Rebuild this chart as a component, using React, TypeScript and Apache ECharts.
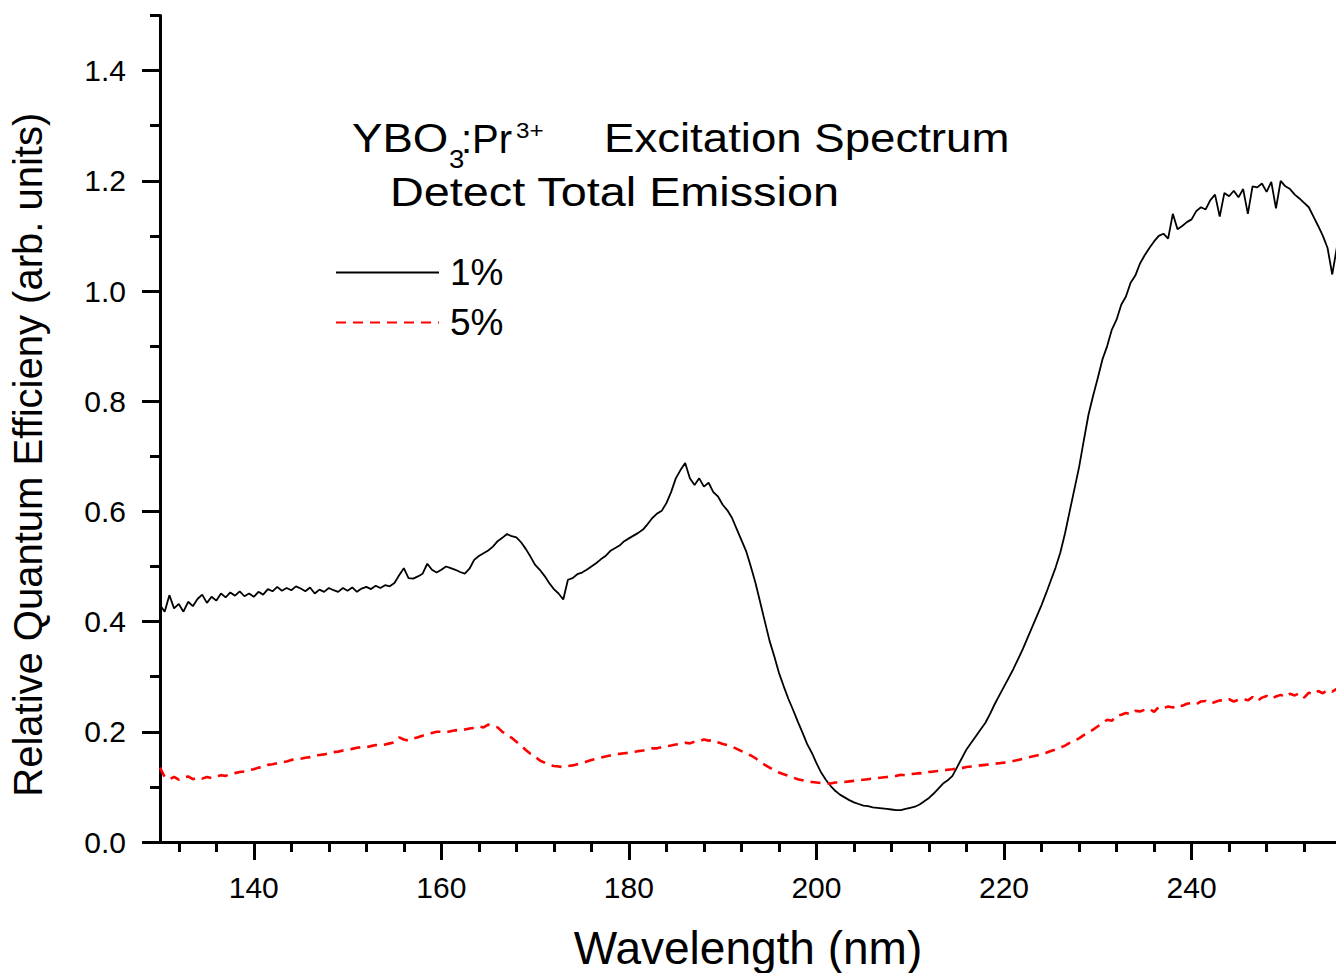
import React, { useEffect, useRef } from "react";
import * as echarts from "echarts";

// Sampling grid of the spectra (nm), 0.5 nm steps from 130 to 255.5
const WAVELENGTH_START = 130;
const WAVELENGTH_STEP = 0.5;

// 1% Pr3+ : relative quantum efficiency
const EFF_1PCT = [
  0.43, 0.418, 0.448, 0.424, 0.432, 0.418, 0.436, 0.428, 0.441, 0.449,
  0.434, 0.445, 0.438, 0.451, 0.444, 0.453, 0.447, 0.455, 0.446, 0.451,
  0.445, 0.454, 0.449, 0.459, 0.455, 0.463, 0.456, 0.461, 0.457, 0.464,
  0.46, 0.455, 0.462, 0.451, 0.458, 0.454, 0.461, 0.457, 0.454, 0.461,
  0.456, 0.462, 0.454, 0.46, 0.463, 0.459, 0.465, 0.461, 0.466, 0.464,
  0.47, 0.484, 0.497, 0.479, 0.478, 0.482, 0.487, 0.505, 0.494, 0.489,
  0.494, 0.5, 0.497, 0.494, 0.49, 0.487, 0.496, 0.512, 0.519, 0.524,
  0.529, 0.536, 0.546, 0.552, 0.559, 0.555, 0.553, 0.544, 0.532, 0.518,
  0.503, 0.494, 0.483, 0.47, 0.459, 0.451, 0.44, 0.476, 0.479, 0.486,
  0.489, 0.494, 0.5, 0.506, 0.513, 0.519, 0.528, 0.533, 0.538, 0.546,
  0.551, 0.556, 0.561, 0.567, 0.577, 0.588, 0.596, 0.601, 0.615, 0.635,
  0.66, 0.675, 0.688, 0.66, 0.648, 0.66, 0.645, 0.652, 0.635, 0.627,
  0.612, 0.602, 0.588, 0.568, 0.548, 0.528, 0.5, 0.47, 0.435, 0.4,
  0.365, 0.337, 0.307, 0.283, 0.26, 0.24, 0.219, 0.199, 0.178, 0.162,
  0.143, 0.126, 0.113, 0.102, 0.093, 0.086, 0.081, 0.076, 0.072, 0.069,
  0.066, 0.065, 0.063, 0.062, 0.061, 0.06, 0.059, 0.058, 0.058, 0.06,
  0.062, 0.064, 0.068, 0.074, 0.08, 0.088, 0.097, 0.106, 0.112, 0.12,
  0.136, 0.152, 0.168, 0.18, 0.192, 0.204, 0.216, 0.232, 0.25, 0.266,
  0.282, 0.298, 0.314, 0.332, 0.35, 0.37, 0.39, 0.41, 0.43, 0.452,
  0.475, 0.498, 0.525, 0.56, 0.6, 0.64, 0.68, 0.728, 0.775, 0.81,
  0.842, 0.876, 0.9, 0.93, 0.948, 0.975, 0.99, 1.015, 1.028, 1.05,
  1.065, 1.078, 1.09, 1.1, 1.104, 1.095, 1.14, 1.112, 1.118, 1.125,
  1.13, 1.145, 1.152, 1.148, 1.165, 1.175, 1.135, 1.178, 1.172, 1.182,
  1.17, 1.185, 1.14, 1.19, 1.188, 1.195, 1.18, 1.198, 1.15, 1.2,
  1.19, 1.185, 1.175, 1.168, 1.16, 1.152, 1.135, 1.118, 1.1, 1.078,
  1.03, 1.08,
];

// 5% Pr3+ : relative quantum efficiency
const EFF_5PCT = [
  0.135, 0.118, 0.114, 0.118, 0.113, 0.117, 0.119, 0.114, 0.117, 0.115,
  0.118, 0.116, 0.119, 0.121, 0.12, 0.123, 0.125, 0.127, 0.128, 0.131,
  0.132, 0.135, 0.136, 0.14, 0.141, 0.143, 0.145, 0.146, 0.149, 0.15,
  0.151, 0.153, 0.154, 0.157, 0.158, 0.159, 0.161, 0.163, 0.164, 0.166,
  0.168, 0.169, 0.171, 0.172, 0.172, 0.174, 0.176, 0.175, 0.177, 0.179,
  0.181, 0.19, 0.186, 0.184, 0.188, 0.19, 0.193, 0.195, 0.198, 0.2,
  0.2, 0.199, 0.201, 0.203, 0.202, 0.204, 0.206, 0.207, 0.21, 0.208,
  0.213, 0.211, 0.208, 0.2, 0.195, 0.189, 0.182, 0.175, 0.167, 0.16,
  0.155, 0.148, 0.144, 0.14, 0.138, 0.137, 0.136, 0.138, 0.139, 0.141,
  0.143, 0.146, 0.149, 0.151, 0.153, 0.155, 0.157, 0.159, 0.16, 0.161,
  0.162, 0.163, 0.165, 0.166, 0.168, 0.17, 0.17, 0.172, 0.174, 0.175,
  0.177, 0.178, 0.18, 0.179, 0.182, 0.183, 0.186, 0.184, 0.185, 0.181,
  0.178, 0.176, 0.173, 0.169, 0.165, 0.161, 0.157, 0.152, 0.146, 0.14,
  0.135, 0.13, 0.126, 0.123, 0.12, 0.117, 0.114, 0.112, 0.11, 0.109,
  0.108, 0.107, 0.107, 0.106, 0.108, 0.108, 0.109, 0.11, 0.111, 0.112,
  0.113, 0.114, 0.115, 0.116, 0.117, 0.118, 0.119, 0.12, 0.122, 0.121,
  0.123, 0.124, 0.125, 0.124, 0.127, 0.128, 0.129, 0.13, 0.131, 0.132,
  0.134, 0.134, 0.136, 0.137, 0.138, 0.139, 0.14, 0.141, 0.142, 0.143,
  0.144, 0.145, 0.147, 0.149, 0.151, 0.153, 0.155, 0.157, 0.159, 0.162,
  0.165, 0.168, 0.171, 0.175, 0.18, 0.184, 0.188, 0.194, 0.199, 0.204,
  0.21, 0.215, 0.222, 0.22, 0.229, 0.231, 0.234, 0.232, 0.238, 0.237,
  0.24, 0.242, 0.236, 0.245, 0.243, 0.246, 0.244, 0.249, 0.247, 0.251,
  0.252, 0.25, 0.255, 0.256, 0.251, 0.254, 0.257, 0.256, 0.259, 0.255,
  0.258, 0.26, 0.257, 0.263, 0.256, 0.262, 0.265, 0.26, 0.264, 0.267,
  0.263, 0.269, 0.266, 0.27, 0.262, 0.271, 0.268, 0.274, 0.27, 0.276,
  0.273, 0.278,
];

const SERIES_NAMES = ["1%", "5%"];
const X_MAJOR_TICKS = [140, 160, 180, 200, 220, 240];
const X_MINOR_TICKS = [132, 136, 144, 148, 152, 156, 164, 168, 172, 176, 184, 188, 192, 196, 204, 208, 212, 216, 224, 228, 232, 236, 244, 248, 252];
const Y_MAJOR_TICKS = [0, 0.2, 0.4, 0.6, 0.8, 1.0, 1.2, 1.4];
const Y_MINOR_TICKS = [0.1, 0.3, 0.5, 0.7, 0.9, 1.1, 1.3, 1.5];
const X_MIN = 130;
const X_MAX = 255.4;
const Y_MIN = 0;
const Y_MAX = 1.5;

const X_TITLE = "Wavelength (nm)";
const Y_TITLE = "Relative Quantum Efficieny (arb. units)";

const FONT = "'Liberation Sans', Arial, Helvetica, sans-serif";

export default function App() {
  const ref = useRef<HTMLDivElement>(null);

  useEffect(() => {
    document.body.style.margin = "0";
    if (!ref.current) return;
    const chart = echarts.init(ref.current, null, { renderer: "svg" });

    const wl = EFF_1PCT.map((_, i) => WAVELENGTH_START + i * WAVELENGTH_STEP);
    const d1 = wl.map((w, i) => [w, EFF_1PCT[i]]);
    const d5 = wl.map((w, i) => [w, EFF_5PCT[i]]);

    const axisLineStyle = { color: "#000", width: 3 };
    const tickStyle = { color: "#000", width: 3 };

    const option: any = {
      animation: false,
      backgroundColor: "#fff",
      grid: { left: 160, right: 0, top: 15.5, bottom: 131, containLabel: false, outerBoundsMode: "none" },
      xAxis: [
        {
          type: "value",
          min: X_MIN,
          max: X_MAX,
          position: "bottom",
          axisLine: { show: true, onZero: false, lineStyle: axisLineStyle },
          axisTick: { show: true, customValues: X_MAJOR_TICKS, length: 18, lineStyle: tickStyle },
          axisLabel: {
            show: true,
            customValues: X_MAJOR_TICKS,
            margin: 30,
            fontSize: 30,
            fontFamily: FONT,
            color: "#000",
            formatter: (v: number) => String(Math.round(v)),
          },
          splitLine: { show: false },
          name: X_TITLE,
          nameLocation: "middle",
          nameGap: 83,
          nameTextStyle: { fontSize: 46, fontFamily: FONT, color: "#000" },
        },
        {
          type: "value",
          min: X_MIN,
          max: X_MAX,
          position: "bottom",
          axisLine: { show: false },
          axisTick: { show: true, customValues: X_MINOR_TICKS, length: 10, lineStyle: tickStyle },
          axisLabel: { show: false },
          splitLine: { show: false },
        },
      ],
      yAxis: [
        {
          type: "value",
          min: Y_MIN,
          max: Y_MAX,
          position: "left",
          axisLine: { show: true, onZero: false, lineStyle: axisLineStyle },
          axisTick: { show: true, customValues: Y_MAJOR_TICKS, length: 18, lineStyle: tickStyle },
          axisLabel: {
            show: true,
            customValues: Y_MAJOR_TICKS,
            margin: 34,
            fontSize: 30,
            fontFamily: FONT,
            color: "#000",
            formatter: (v: number) => v.toFixed(1),
          },
          splitLine: { show: false },
          name: Y_TITLE,
          nameLocation: "middle",
          nameGap: 112,
          nameTextStyle: { fontSize: 40, fontFamily: FONT, color: "#000", padding: [0, 52, 0, 0] },
        },
        {
          type: "value",
          min: Y_MIN,
          max: Y_MAX,
          position: "left",
          axisLine: { show: false },
          axisTick: { show: true, customValues: Y_MINOR_TICKS, length: 10, lineStyle: tickStyle },
          axisLabel: { show: false },
          splitLine: { show: false },
        },
      ],
      legend: {
        orient: "vertical",
        left: 335,
        top: 254,
        padding: 0,
        itemWidth: 103,
        itemHeight: 14,
        itemGap: 13,
        itemStyle: { color: "rgba(0,0,0,0)", opacity: 0, borderWidth: 0 },
        textStyle: { fontSize: 37, fontFamily: FONT, color: "#000", padding: [0, 0, 0, 6] },
        data: SERIES_NAMES,
      },
      series: [
        {
          name: SERIES_NAMES[0],
          type: "line",
          xAxisIndex: 0,
          yAxisIndex: 0,
          data: d1,
          symbol: "none",
          showSymbol: false,
          lineStyle: { color: "#000", width: 1.8 },
          itemStyle: { color: "#000" },
        },
        {
          name: SERIES_NAMES[1],
          type: "line",
          xAxisIndex: 0,
          yAxisIndex: 0,
          data: d5,
          symbol: "none",
          showSymbol: false,
          lineStyle: { color: "#ff0000", width: 2.6, type: [10, 7] },
          itemStyle: { color: "#ff0000" },
        },
      ],
      graphic: [
        { type: "text", x: 352, y: 138.5, scaleX: 1.14, style: { text: "YBO", fontSize: 40, fontFamily: FONT, fill: "#000", align: "left", verticalAlign: "middle" } },
        { type: "text", x: 449, y: 159, scaleX: 1.1, style: { text: "3", fontSize: 25, fontFamily: FONT, fill: "#000", align: "left", verticalAlign: "middle" } },
        { type: "text", x: 461, y: 138.5, scaleX: 1.0, style: { text: ":Pr", fontSize: 40, fontFamily: FONT, fill: "#000", align: "left", verticalAlign: "middle" } },
        { type: "text", x: 516, y: 130, scaleX: 1.1, style: { text: "3+", fontSize: 22, fontFamily: FONT, fill: "#000", align: "left", verticalAlign: "middle" } },
        { type: "text", x: 604, y: 138.5, scaleX: 1.14, style: { text: "Excitation Spectrum", fontSize: 40, fontFamily: FONT, fill: "#000", align: "left", verticalAlign: "middle" } },
        { type: "text", x: 390, y: 192.5, scaleX: 1.17, style: { text: "Detect Total Emission", fontSize: 40, fontFamily: FONT, fill: "#000", align: "left", verticalAlign: "middle" } },
      ],
    };

    chart.setOption(option);
    return () => chart.dispose();
  }, []);

  return <div ref={ref} style={{ width: 1336, height: 973 }} />;
}
